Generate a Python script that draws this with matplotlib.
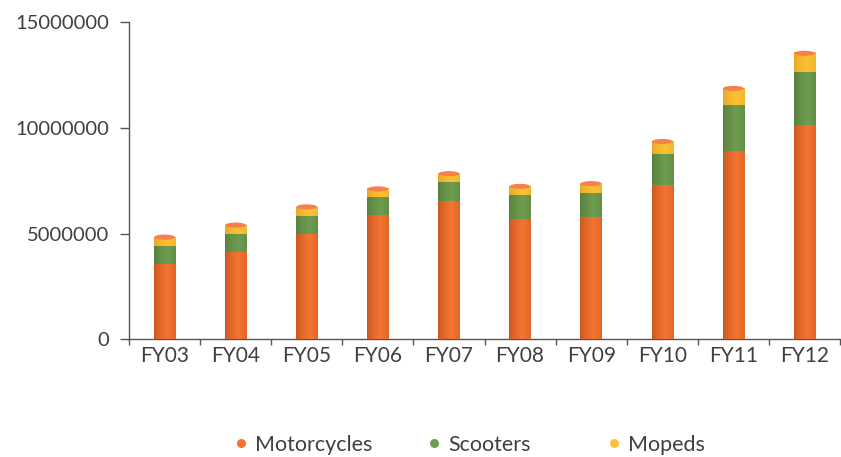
import numpy as np
import matplotlib
matplotlib.use('Agg')
from matplotlib import pyplot as plt
from matplotlib.patches import Ellipse
from matplotlib.lines import Line2D
from matplotlib.colors import to_rgb

plt.rcParams['font.family'] = ['Lato', 'DejaVu Sans']

# data (units)
years = ['FY03', 'FY04', 'FY05', 'FY06', 'FY07', 'FY08', 'FY09', 'FY10', 'FY11', 'FY12']
motorcycles = [3580000, 4140000, 4990000, 5860000, 6520000, 5700000, 5800000, 7310000, 8890000, 10120000]
scooters = [840000, 850000, 850000, 850000, 900000, 1110000, 1130000, 1470000, 2170000, 2500000]
mopeds = [410000, 410000, 420000, 400000, 410000, 420000, 430000, 570000, 800000, 900000]

series = [('Motorcycles', motorcycles, '#c9551f', '#f47533'),
          ('Scooters', scooters, '#587f3d', '#6e9c50'),
          ('Mopeds', mopeds, '#e8a628', '#fdc233')]
txt_col = '#404040'

fig = plt.figure(figsize=(8.41, 4.57), dpi=100)
ax = fig.add_axes([129/841, 1-339.3/457, 711/841, (339.3-22)/457])

x = np.arange(len(years))
bw = 0.3
bottom = np.zeros(len(years))

def shade(dark, light, n=64):
    # horizontal cylinder shading: dark edges, bright just right of centre
    t = np.linspace(0, 1, n)
    w = np.clip(1 - np.abs(t - 0.62) / 0.62, 0, 1) ** 0.7
    d = np.array(to_rgb(dark)); l = np.array(to_rgb(light))
    return (d[None, :] * (1 - w[:, None]) + l[None, :] * w[:, None])[None, :, :]

for name, vals, dark, light in series:
    bars = ax.bar(x, vals, bw, bottom=bottom, color=light, linewidth=0, zorder=2)
    grad = shade(dark, light)
    for b in bars:
        x0, y0 = b.get_x(), b.get_y()
        ax.imshow(grad, extent=[x0, x0 + b.get_width(), y0, y0 + b.get_height()],
                  aspect='auto', zorder=3, interpolation='bilinear')
    bottom = bottom + np.array(vals)

for xi, top in zip(x, bottom):
    ax.add_patch(Ellipse((xi, top), bw * 0.97, 0.24e6, color='#f5804a', zorder=4, linewidth=0))

ax.set_xlim(-0.5, len(years) - 0.5)
ax.set_ylim(0, 15000000)
ax.set_yticks([0, 5000000, 10000000, 15000000])
ax.set_yticklabels(['0', '5000000', '10000000', '15000000'])
ax.set_xticks(np.arange(-0.5, len(years)), labels=[''] * (len(years) + 1))
ax.set_xticks(x, labels=years, minor=True)

for s in ['top', 'right']:
    ax.spines[s].set_visible(False)
for s in ['left', 'bottom']:
    ax.spines[s].set_color('#555555')
    ax.spines[s].set_linewidth(1)

ax.tick_params(axis='y', direction='out', length=6.5, width=1, color='#555555',
               pad=8, labelsize=14.5, labelcolor=txt_col)
ax.tick_params(axis='x', which='major', direction='out', length=4.5, width=1, color='#555555')
ax.tick_params(axis='x', which='minor', length=0, pad=5, labelsize=15, labelcolor=txt_col)

# one legend per entry, placed where the reference puts each dot
dot_x = [241, 434, 614]
for (name, vals, dark, light), dx in zip(series, dot_x):
    h = Line2D([], [], linestyle='none', marker='o', markersize=6.5,
               markerfacecolor=light, markeredgewidth=0, label=name)
    leg = fig.legend(handles=[h], loc='center left',
                     bbox_to_anchor=((dx - 8.6) / 841, 0.027), frameon=False,
                     fontsize=15.5, labelcolor=txt_col, handletextpad=0.25,
                     handlelength=0.8, borderpad=0, borderaxespad=0)

plt.savefig('out.png', dpi=100)
